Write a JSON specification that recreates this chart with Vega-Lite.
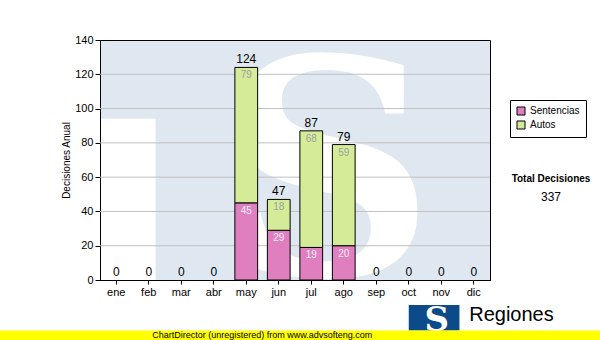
{
  "$schema": "https://vega.github.io/schema/vega-lite/v6.json",
  "width": 390,
  "height": 240,
  "autosize": "none",
  "padding": {"left": 100, "top": 40, "right": 110, "bottom": 60},
  "background": "white",
  "title": {
    "text": "Total Decisiones",
    "subtitle": "337",
    "orient": "top",
    "anchor": "end",
    "frame": "group",
    "align": "center",
    "dx": 61,
    "dy": 173,
    "font": "Liberation Sans",
    "fontSize": 10,
    "fontWeight": "bold",
    "color": "black",
    "subtitleFont": "Liberation Sans",
    "subtitleFontSize": 12,
    "subtitleColor": "black",
    "subtitlePadding": 8
  },
  "datasets": {
    "decisiones": [
      {"mes": "ene", "serie": "Sentencias", "valor": 0},
      {"mes": "ene", "serie": "Autos", "valor": 0},
      {"mes": "feb", "serie": "Sentencias", "valor": 0},
      {"mes": "feb", "serie": "Autos", "valor": 0},
      {"mes": "mar", "serie": "Sentencias", "valor": 0},
      {"mes": "mar", "serie": "Autos", "valor": 0},
      {"mes": "abr", "serie": "Sentencias", "valor": 0},
      {"mes": "abr", "serie": "Autos", "valor": 0},
      {"mes": "may", "serie": "Sentencias", "valor": 45},
      {"mes": "may", "serie": "Autos", "valor": 79},
      {"mes": "jun", "serie": "Sentencias", "valor": 29},
      {"mes": "jun", "serie": "Autos", "valor": 18},
      {"mes": "jul", "serie": "Sentencias", "valor": 19},
      {"mes": "jul", "serie": "Autos", "valor": 68},
      {"mes": "ago", "serie": "Sentencias", "valor": 20},
      {"mes": "ago", "serie": "Autos", "valor": 59},
      {"mes": "sep", "serie": "Sentencias", "valor": 0},
      {"mes": "sep", "serie": "Autos", "valor": 0},
      {"mes": "oct", "serie": "Sentencias", "valor": 0},
      {"mes": "oct", "serie": "Autos", "valor": 0},
      {"mes": "nov", "serie": "Sentencias", "valor": 0},
      {"mes": "nov", "serie": "Autos", "valor": 0},
      {"mes": "dic", "serie": "Sentencias", "valor": 0},
      {"mes": "dic", "serie": "Autos", "valor": 0}
    ],
    "grid": [{"g": 20}, {"g": 40}, {"g": 60}, {"g": 80}, {"g": 100}, {"g": 120}],
    "one": [{"k": 1}]
  },
  "data": {"name": "decisiones"},
  "layer": [
    {
      "data": {"name": "one"},
      "mark": {"type": "rect", "fill": "white"},
      "encoding": {
        "x": {"datum": "ene", "bandPosition": -0.17, "type": "nominal", "scale": {"domain": ["ene","feb","mar","abr","may","jun","jul","ago","sep","oct","nov","dic"], "type": "band", "paddingInner": 0.3, "paddingOuter": 0.15}},
        "x2": {"datum": "feb", "bandPosition": 0.8},
        "y": {"datum": 0, "type": "quantitative", "scale": {"domain": [0, 140], "nice": false}},
        "y2": {"datum": 94}
      }
    },
    {
      "data": {"name": "one"},
      "mark": {"type": "text", "text": "S", "font": "DejaVu Serif", "fontWeight": "bold", "fontSize": 300, "fill": "white", "align": "center", "baseline": "alphabetic"},
      "encoding": {
        "x": {"datum": "jul", "bandPosition": 1.2, "type": "nominal"},
        "y": {"datum": 3, "type": "quantitative"}
      }
    },
    {
      "data": {"name": "grid"},
      "mark": {"type": "rule", "stroke": "#c0c0c0", "strokeWidth": 1},
      "encoding": {
        "y": {"field": "g", "type": "quantitative", "title": "Decisiones Anual"}
      }
    },
    {
      "transform": [
        {"stack": "valor", "groupby": ["mes"], "sort": [{"field": "serie", "order": "descending"}], "as": ["y0", "y1"]},
        {"filter": "datum.valor > 0"}
      ],
      "mark": {"type": "bar", "stroke": "black", "strokeWidth": 1, "opacity": 1},
      "encoding": {
        "x": {"field": "mes", "type": "nominal", "title": null, "sort": null},
        "y": {"field": "y0", "type": "quantitative", "title": "Decisiones Anual"},
        "y2": {"field": "y1"},
        "color": {"field": "serie", "type": "nominal", "title": null,
          "scale": {"domain": ["Sentencias", "Autos"], "range": ["#e07fc0", "#d4eb98"]}}
      }
    },
    {
      "transform": [
        {"stack": "valor", "groupby": ["mes"], "sort": [{"field": "serie", "order": "descending"}], "as": ["y0", "y1"]},
        {"filter": "datum.valor > 0 && datum.serie == 'Sentencias'"}
      ],
      "mark": {"type": "text", "baseline": "top", "dy": 3, "font": "Liberation Sans", "fontSize": 10, "fill": "#f8eef6"},
      "encoding": {
        "x": {"field": "mes", "type": "nominal", "title": null, "sort": null},
        "y": {"field": "y1", "type": "quantitative", "title": "Decisiones Anual"},
        "text": {"field": "valor"}
      }
    },
    {
      "transform": [
        {"stack": "valor", "groupby": ["mes"], "sort": [{"field": "serie", "order": "descending"}], "as": ["y0", "y1"]},
        {"filter": "datum.valor > 0 && datum.serie == 'Autos'"}
      ],
      "mark": {"type": "text", "baseline": "top", "dy": 3, "font": "Liberation Sans", "fontSize": 10, "fill": "#a0a0a0"},
      "encoding": {
        "x": {"field": "mes", "type": "nominal", "title": null, "sort": null},
        "y": {"field": "y1", "type": "quantitative", "title": "Decisiones Anual"},
        "text": {"field": "valor"}
      }
    },
    {
      "transform": [
        {"aggregate": [{"op": "sum", "field": "valor", "as": "total"}], "groupby": ["mes"]}
      ],
      "mark": {"type": "text", "baseline": "bottom", "dy": -1, "font": "Liberation Sans", "fontSize": 12, "fill": "black"},
      "encoding": {
        "x": {"field": "mes", "type": "nominal", "title": null, "sort": null},
        "y": {"field": "total", "type": "quantitative", "title": "Decisiones Anual"},
        "text": {"field": "total"}
      }
    },
    {
      "data": {"name": "one"},
      "mark": {"type": "rect", "fill": "#0d4a8a"},
      "encoding": {
        "x": {"datum": "oct", "bandPosition": 0.5},
        "x2": {"datum": "nov", "bandPosition": 1.3},
        "y": {"datum": -14.6},
        "y2": {"datum": -29.5}
      }
    },
    {
      "data": {"name": "one"},
      "mark": {"type": "text", "text": "S", "font": "DejaVu Serif", "fontWeight": "bold", "fontSize": 34, "fill": "white", "align": "center", "baseline": "alphabetic"},
      "encoding": {
        "x": {"datum": "nov", "bandPosition": 0.3},
        "y": {"datum": -29.5}
      }
    },
    {
      "data": {"name": "one"},
      "mark": {"type": "text", "text": "Regiones", "font": "Liberation Sans", "fontSize": 20, "fill": "black", "align": "left", "baseline": "middle"},
      "encoding": {
        "x": {"datum": "dic", "bandPosition": 0.3},
        "y": {"datum": -20.5}
      }
    },
    {
      "data": {"name": "one"},
      "mark": {"type": "rect", "fill": "#ffff00"},
      "encoding": {
        "x": {"datum": "ene", "bandPosition": -4.7},
        "x2": {"datum": "dic", "bandPosition": 6.2},
        "y": {"datum": -29.5},
        "y2": {"datum": -36}
      }
    },
    {
      "data": {"name": "one"},
      "mark": {"type": "text", "text": "ChartDirector (unregistered) from www.advsofteng.com", "font": "Liberation Sans", "fontSize": 9, "fill": "black", "align": "center", "baseline": "middle"},
      "encoding": {
        "x": {"datum": "may", "bandPosition": 1.2},
        "y": {"datum": -31.8}
      }
    }
  ],
  "config": {
    "view": {"stroke": "black", "strokeWidth": 1, "fill": "#dfe8f1"},
    "axis": {
      "grid": false,
      "domainColor": "black",
      "tickColor": "black",
      "labelColor": "black",
      "labelFont": "Liberation Sans",
      "labelFontSize": 11,
      "titleFont": "Liberation Sans",
      "titleFontSize": 10,
      "titleFontWeight": "normal",
      "titleColor": "black"
    },
    "axisY": {"values": [0, 20, 40, 60, 80, 100, 120, 140], "tickSize": 5, "labelPadding": 2, "titlePadding": 3},
    "axisX": {"tickSize": 4, "labelPadding": 2, "labelAngle": 0},
    "legend": {
      "orient": "none",
      "legendX": 410,
      "legendY": 60,
      "title": null,
      "symbolType": "square",
      "symbolSize": 64,
      "symbolStrokeColor": "black",
      "symbolStrokeWidth": 1,
      "strokeColor": "black",
      "fillColor": "white",
      "padding": 6,
      "labelFont": "Liberation Sans",
      "labelFontSize": 10,
      "labelColor": "black",
      "rowPadding": 2,
      "labelOffset": 4
    }
  }
}
